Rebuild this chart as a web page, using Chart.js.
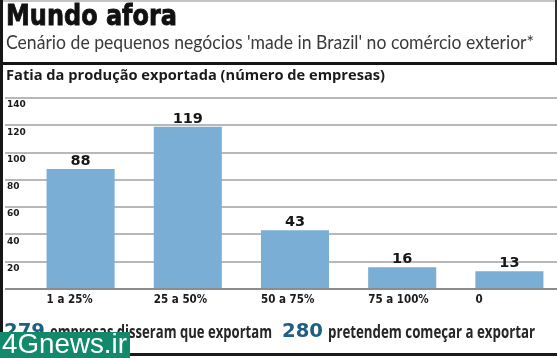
<!DOCTYPE html>
<html>
<head>
<meta charset="utf-8">
<script src="https://cdn.jsdelivr.net/npm/chart.js@4.4.1/dist/chart.umd.min.js"></script>
<style>
  html, body { margin:0; padding:0; }
  body { width:557px; height:358px; overflow:hidden; position:relative; background:#ffffff; }
  #wrap { position:absolute; left:0; top:0; width:563px; height:358px; }
  .t { position:absolute; white-space:nowrap; margin:0; transform-origin:left top; }
  #title { left:6px; top:1px; font-family:"DejaVu Sans",sans-serif; font-weight:bold; font-size:29px; line-height:29px; color:#111; -webkit-text-stroke:0.9px #111; }
  #subtitle { left:6px; top:32px; font-family:Lato,"Open Sans",sans-serif; font-size:19px; line-height:19px; color:#3a3a3a; }
  #rule { position:absolute; left:0; top:62px; width:557px; height:3px; background:#151515; }
  #head { left:6px; top:68px; font-family:"Open Sans",sans-serif; font-weight:bold; font-size:14px; line-height:14px; color:#1a1a1a; }
  #topline { position:absolute; left:0; top:0; width:557px; height:2px; background:#c4c4c4; }
  #leftline { position:absolute; left:0; top:0; width:3px; height:355px; background:#161616; }
  #rightline { position:absolute; left:555px; top:0; width:2px; height:64px; background:#303030; }
  #bottomline { position:absolute; left:0; top:353px; width:557px; height:3px; background:#1a1a1a; }
  .big { font-family:"DejaVu Sans",sans-serif; font-weight:bold; font-size:20px; line-height:20px; color:#1f5f80; top:320px; }
  .small { font-family:"Open Sans",sans-serif; font-weight:bold; font-size:17px; line-height:17px; color:#262626; top:323px; }
  #wm { position:absolute; left:0; top:332px; width:130px; height:26px; background:#12896b; }
  #wmt { left:2px; top:331px; font-family:"Liberation Sans",Arial,sans-serif; font-size:27px; line-height:27px; color:#ffffff; }
</style>
</head>
<body>
<div id="wrap"><canvas id="c" width="563" height="358"></canvas></div>
<div id="topline"></div>
<div id="leftline"></div>
<div id="rightline"></div>
<div class="t" id="title" data-w="171">Mundo afora</div>
<div class="t" id="subtitle" data-w="528">Cenário de pequenos negócios 'made in Brazil' no comércio exterior*</div>
<div id="rule"></div>
<div class="t" id="head" data-w="379">Fatia da produção exportada (número de empresas)</div>
<div class="t big" style="left:4px;" data-w="41">279</div>
<div class="t small" style="left:50px;" data-w="222">empresas disseram que exportam</div>
<div class="t big" style="left:282px;" data-w="41">280</div>
<div class="t small" style="left:328px;" data-w="207">pretendem começar a exportar</div>
<div id="bottomline"></div>
<div id="wm"></div>
<div class="t" id="wmt" data-w="125">4Gnews.ir</div>
<script>
const categories = ['1 a 25%', '25 a 50%', '50 a 75%', '75 a 100%', '0'];
const companies = [88, 119, 43, 16, 13];
const yTicks = [0, 20, 40, 60, 80, 100, 120, 140];
const yMin = 0;
const yMax = 140;

document.querySelectorAll('[data-w]').forEach(el => {
  const w = el.getBoundingClientRect().width;
  if (w > 0) el.style.transform = 'scaleX(' + (parseFloat(el.dataset.w) / w) + ')';
});

const valueLabels = {
  id: 'valueLabels',
  afterDatasetsDraw(chart) {
    const ctx = chart.ctx;
    const meta = chart.getDatasetMeta(0);
    ctx.save();
    ctx.font = 'bold 14.5px "DejaVu Sans", sans-serif';
    ctx.fillStyle = '#161616';
    ctx.textAlign = 'center';
    ctx.textBaseline = 'alphabetic';
    meta.data.forEach((el, i) => {
      ctx.fillText(String(companies[i]), el.x, el.y - 4);
    });
    ctx.restore();
  }
};

new Chart(document.getElementById('c'), {
  type: 'bar',
  data: {
    labels: categories,
    datasets: [{
      data: companies,
      backgroundColor: '#7aaed5',
      borderWidth: 0,
      barPercentage: 0.635,
      categoryPercentage: 1.0
    }]
  },
  options: {
    responsive: false,
    animation: false,
    layout: { padding: { top: 98, left: 0, right: 0, bottom: 0 } },
    plugins: { legend: { display: false }, tooltip: { enabled: false } },
    scales: {
      x: {
        type: 'category',
        grid: { display: false, drawTicks: false },
        border: { display: false },
        ticks: {
          align: 'start',
          labelOffset: -34,
          padding: 4,
          maxRotation: 0,
          autoSkip: false,
          color: '#1a1a1a',
          font: { family: '"DejaVu Sans Condensed", "DejaVu Sans", sans-serif', weight: 'bold', size: 11.5 }
        },
        afterFit(s) { s.height = 69; }
      },
      y: {
        min: yMin,
        max: yMax,
        afterBuildTicks(s) { s.ticks = yTicks.map(v => ({ value: v })); },
        grid: {
          color: (c) => (c.tick && c.tick.value === 0) ? '#8c8c8c' : '#b8b8b8',
          lineWidth: 2,
          drawTicks: true,
          tickLength: 22
        },
        border: { display: false },
        ticks: {
          mirror: true,
          crossAlign: 'near',
          padding: -20,
          labelOffset: 7,
          color: '#1a1a1a',
          font: { family: '"DejaVu Sans", sans-serif', weight: 'bold', size: 9 },
          callback: (v) => v === 0 ? '' : String(v)
        },
        afterFit(s) { s.width = 27; }
      }
    }
  },
  plugins: [valueLabels]
});
</script>
</body>
</html>
